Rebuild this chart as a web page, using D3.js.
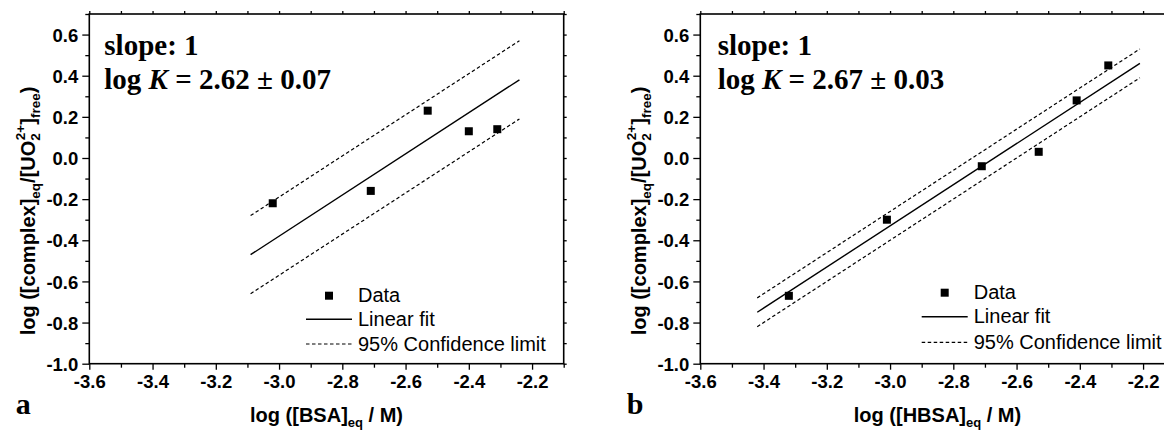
<!DOCTYPE html>
<html>
<head>
<meta charset="utf-8">
<script src="https://cdn.jsdelivr.net/npm/d3@7"></script>
<style>
  body { margin: 0; background: #fff; }
  svg { display: block; }
</style>
</head>
<body>
<svg id="chart" width="1164" height="432"></svg>
<script>
// values
const xDomain = [-3.6, -2.1];
const yDomain = [-1.0, 0.7];
const xTickValues = [-3.6, -3.4, -3.2, -3.0, -2.8, -2.6, -2.4, -2.2];
const yTickValues = [-1.0, -0.8, -0.6, -0.4, -0.2, 0.0, 0.2, 0.4, 0.6];

const bsaX = [-3.02, -2.71, -2.53, -2.40, -2.31];
const bsaY = [-0.22, -0.16, 0.23, 0.13, 0.14];
const hbsaX = [-3.32, -3.01, -2.71, -2.53, -2.41, -2.31];
const hbsaY = [-0.67, -0.30, -0.04, 0.03, 0.28, 0.45];

const fitSlope = [1, 1];
const fitIntercept = [2.62, 2.67];
const fitRange = [[-3.09, -2.24], [-3.42, -2.21]];
const confHalf = [0.19, 0.07];

const panelLetters = ["a", "b"];
const proteinNames = ["BSA", "HBSA"];
const logKText = ["2.62 \u00b1 0.07", "2.67 \u00b1 0.03"];
const legendLabels = ["Data", "Linear fit", "95% Confidence limit"];

const svg = d3.select("#chart");

const panels = [
  { left: 89.3, xs: bsaX, ys: bsaY, legX: 306, legY: [295.7, 319.3, 344], noteX: 104.3 },
  { left: 700.3, xs: hbsaX, ys: hbsaY, legX: 921.7, legY: [292.7, 316.7, 342.3], noteX: 717.7 }
];
const plotTop = 14, plotBottom = 363.7, plotW = 474.4;
const fmt = d => d.toFixed(1);  // plain hyphen minus, like the original

function minorTicks(lo, hi, step) {
  const out = [];
  for (let v = lo; v <= hi + 1e-9; v += step) out.push(+v.toFixed(3));
  return out;
}

panels.forEach((p, i) => {
  const x = d3.scaleLinear().domain(xDomain).range([p.left, p.left + plotW]);
  const y = d3.scaleLinear().domain(yDomain).range([plotBottom, plotTop]);
  const g = svg.append("g");

  const xMinor = minorTicks(-3.6, -2.1, 0.1).filter(v => !xTickValues.some(t => Math.abs(t - v) < 1e-6));
  const yMinor = minorTicks(-1.0, 0.7, 0.1).filter(v => !yTickValues.some(t => Math.abs(t - v) < 1e-6));

  // bottom axis
  const xAx = g.append("g").attr("transform", `translate(0,${plotBottom})`)
    .call(d3.axisBottom(x).tickValues(xTickValues).tickSize(6).tickFormat(fmt))
    .call(a => a.select(".domain").remove());
  xAx.selectAll("text").attr("y", 11).attr("dy", "0.71em");
  g.append("g").attr("transform", `translate(0,${plotBottom})`)
    .call(d3.axisBottom(x).tickValues(xMinor).tickSize(4).tickFormat(""))
    .call(a => a.select(".domain").remove());
  // left axis
  const yAx = g.append("g").attr("transform", `translate(${p.left},0)`)
    .call(d3.axisLeft(y).tickValues(yTickValues).tickSize(7).tickFormat(fmt))
    .call(a => a.select(".domain").remove());
  yAx.selectAll("text").attr("x", -11).attr("dy", "0.36em");
  g.append("g").attr("transform", `translate(${p.left},0)`)
    .call(d3.axisLeft(y).tickValues(yMinor).tickSize(4).tickFormat(""))
    .call(a => a.select(".domain").remove());
  // top and right axes, no labels
  g.append("g").attr("transform", `translate(0,${plotTop})`)
    .call(d3.axisTop(x).tickValues(minorTicks(-3.6, -2.1, 0.1)).tickSize(3).tickFormat(""))
    .call(a => a.select(".domain").remove());
  g.append("g").attr("transform", `translate(${p.left + plotW},0)`)
    .call(d3.axisRight(y).tickValues(minorTicks(-1.0, 0.7, 0.1)).tickSize(3).tickFormat(""))
    .call(a => a.select(".domain").remove());

  g.selectAll(".tick line").attr("stroke", "#000").attr("stroke-width", 1.3);
  g.selectAll(".tick text")
    .attr("font-family", "'Liberation Sans', Arial, sans-serif")
    .attr("font-weight", "bold").attr("font-size", 18.5).attr("fill", "#000");

  // frame
  g.append("rect")
    .attr("x", p.left).attr("y", plotTop)
    .attr("width", plotW).attr("height", plotBottom - plotTop)
    .attr("fill", "none").attr("stroke", "#000").attr("stroke-width", 1.6);

  // fit and confidence lines
  const line = d3.line().x(d => x(d[0])).y(d => y(d[1]));
  const fitPts = fitRange[i].map(v => [v, fitSlope[i] * v + fitIntercept[i]]);
  g.append("path").attr("d", line(fitPts))
    .attr("stroke", "#000").attr("stroke-width", 1.4).attr("fill", "none");
  [1, -1].forEach(s => {
    g.append("path").attr("d", line(fitPts.map(d => [d[0], d[1] + s * confHalf[i]])))
      .attr("stroke", "#000").attr("stroke-width", 1.2).attr("stroke-dasharray", "3.5,2.5").attr("fill", "none");
  });

  // data squares
  const ms = 8;
  g.selectAll("rect.pt").data(p.xs.map((v, k) => [v, p.ys[k]])).enter()
    .append("rect").attr("class", "pt")
    .attr("x", d => x(d[0]) - ms / 2).attr("y", d => y(d[1]) - ms / 2)
    .attr("width", ms).attr("height", ms).attr("fill", "#000");

  // legend
  const lg = g.append("g").attr("font-family", "'Liberation Sans', Arial, sans-serif").attr("font-size", 20);
  lg.append("rect").attr("x", p.legX + 23 - ms / 2).attr("y", p.legY[0] - ms / 2)
    .attr("width", ms).attr("height", ms).attr("fill", "#000");
  lg.append("line").attr("x1", p.legX).attr("x2", p.legX + 46).attr("y1", p.legY[1]).attr("y2", p.legY[1])
    .attr("stroke", "#000").attr("stroke-width", 1.4);
  lg.append("line").attr("x1", p.legX).attr("x2", p.legX + 46).attr("y1", p.legY[2]).attr("y2", p.legY[2])
    .attr("stroke", "#000").attr("stroke-width", 1.2).attr("stroke-dasharray", "3.5,2.5");
  legendLabels.forEach((t, k) => {
    lg.append("text").attr("x", p.legX + 52).attr("y", p.legY[k] + 6.5).text(t);
  });

  // annotation
  const note = g.append("g").attr("font-family", "'Liberation Serif', 'Times New Roman', serif")
    .attr("font-weight", "bold").attr("font-size", 29);
  note.append("text").attr("x", p.noteX).attr("y", 55).text("slope: 1");
  const t2 = note.append("text").attr("x", p.noteX).attr("y", 89.3);
  t2.append("tspan").text("log ");
  t2.append("tspan").attr("font-style", "italic").text("K");
  t2.append("tspan").text(" = " + logKText[i]);

  // panel letter
  g.append("text").attr("x", p.left - 73.5).attr("y", 414.3)
    .attr("font-family", "'Liberation Serif', 'Times New Roman', serif")
    .attr("font-weight", "bold").attr("font-size", 30).text(panelLetters[i]);

  // x title
  const xt = g.append("text").attr("x", p.left + plotW / 2).attr("y", 422)
    .attr("text-anchor", "middle")
    .attr("font-family", "'Liberation Sans', Arial, sans-serif")
    .attr("font-weight", "bold").attr("font-size", 20);
  xt.append("tspan").text("log ([" + proteinNames[i] + "]");
  xt.append("tspan").attr("font-size", 13).attr("dy", 5).text("eq");
  xt.append("tspan").attr("dy", -5).text(" / M)");

  // y title
  const yt = g.append("text")
    .attr("transform", `translate(${p.left - 54},211) rotate(-90)`)
    .attr("text-anchor", "middle")
    .attr("font-family", "'Liberation Sans', Arial, sans-serif")
    .attr("font-weight", "bold").attr("font-size", 20);
  yt.append("tspan").text("log ([complex]");
  yt.append("tspan").attr("font-size", 13.5).attr("dy", 5).text("eq");
  yt.append("tspan").attr("dy", -5).text("/[UO");
  yt.append("tspan").attr("font-size", 13.5).attr("dy", 5).text("2");
  yt.append("tspan").attr("font-size", 13.5).attr("dy", -15).attr("dx", -7).text("2+");
  yt.append("tspan").attr("dy", 10).text("]");
  yt.append("tspan").attr("font-size", 13.5).attr("dy", 5).text("free");
  yt.append("tspan").attr("dy", -5).text(")");
});
</script>
</body>
</html>
